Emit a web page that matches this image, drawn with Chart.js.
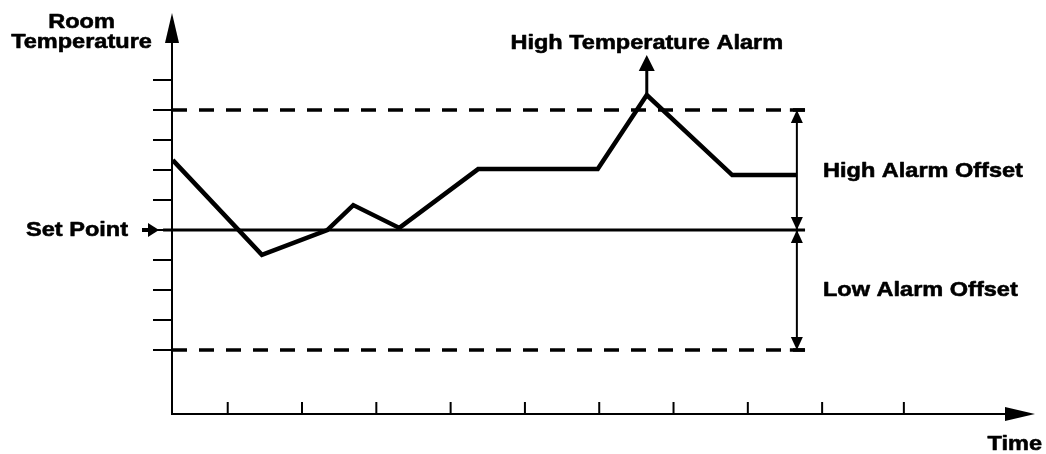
<!DOCTYPE html>
<html><head><meta charset="utf-8">
<script src="https://cdn.jsdelivr.net/npm/chart.js@4.4.0/dist/chart.umd.min.js"></script>
<style>html,body{margin:0;padding:0;background:#fff;overflow:hidden}#wrap{width:1046px;height:454px;position:relative}</style>
</head><body><div id="wrap"><canvas id="c"></canvas></div>
<script>
// ---- data (abstract units: x = time ticks, y = temperature steps from set point) ----
const timeValues        = [0.01, 1.21, 2.09, 2.44, 3.06, 4.12, 5.73, 6.39, 7.54, 8.41];
const temperatureValues = [2.33, -0.83, 0.0, 0.83, 0.07, 2.03, 2.03, 4.5, 1.83, 1.83];
const setPoint = 0;
const highAlarmLevel = 4;
const lowAlarmLevel = -4;
const yTickValues = [-4, -3, -2, -1, 0, 1, 2, 3, 4, 5];
const xTickValues = [0.75, 1.75, 2.75, 3.75, 4.75, 5.75, 6.75, 7.75, 8.75, 9.85];
const lineEnd = 8.52;     // where reference lines end (time units)
const offsetX = 8.41;     // x of offset dimension arrows
const alarmArrowTop = 5.83; // top of the high-temperature alarm arrow

const labels = {
  yTitle: ['Room', 'Temperature'],
  xTitle: 'Time',
  alarm: 'High Temperature Alarm',
  setPoint: 'Set Point',
  high: 'High Alarm Offset',
  low: 'Low Alarm Offset'
};

const FONT = 'bold 21px "Liberation Sans", Arial, Helvetica, sans-serif';
const SX = 1.12;

function head(ctx, tx, ty, dx, dy, len, hw) {
  const bx = tx - dx * len, by = ty - dy * len;
  const px = -dy, py = dx;
  ctx.beginPath();
  ctx.moveTo(tx, ty);
  ctx.lineTo(bx + px * hw, by + py * hw);
  ctx.lineTo(bx - px * hw, by - py * hw);
  ctx.closePath();
  ctx.fill();
}
function line(ctx, x1, y1, x2, y2, w) {
  ctx.lineWidth = w;
  ctx.beginPath(); ctx.moveTo(x1, y1); ctx.lineTo(x2, y2); ctx.stroke();
}
function text(ctx, s, x, y, align) {
  ctx.save();
  ctx.font = FONT;
  ctx.textBaseline = 'alphabetic';
  const w = ctx.measureText(s).width * SX;
  let left = x;
  if (align === 'center') left = x - w / 2;
  else if (align === 'right') left = x - w;
  ctx.translate(left, y);
  ctx.scale(SX, 1);
  ctx.textAlign = 'left';
  ctx.lineWidth = 0.6;
  ctx.lineJoin = 'round';
  ctx.fillText(s, 0, 0);
  ctx.strokeText(s, 0, 0);
  ctx.restore();
}

const decor = {
  id: 'decor',
  afterDatasetsDraw(chart) {
    const ctx = chart.ctx;
    const xs = chart.scales.x, ys = chart.scales.y;
    const X = v => xs.getPixelForValue(v), Y = v => ys.getPixelForValue(v);
    ctx.save();
    ctx.strokeStyle = '#000'; ctx.fillStyle = '#000'; ctx.lineCap = 'butt';
    const x0 = X(xs.min), y0 = Y(ys.min);
    const topY = Y(ys.max), rightX = X(xs.max);
    // axes
    line(ctx, x0, y0 + 1, x0, topY + 28, 2);
    head(ctx, x0, topY, 0, -1, 30, 7);
    line(ctx, x0 - 1, y0, rightX - 28, y0, 2);
    head(ctx, rightX, y0, 1, 0, 30, 7);
    // ticks
    yTickValues.forEach(v => line(ctx, x0 - 19, Y(v), x0, Y(v), 2));
    xTickValues.forEach(v => line(ctx, X(v), y0, X(v), y0 - 12, 2));
    // offset dimension arrows
    const ox = X(offsetX);
    const yh = Y(highAlarmLevel), ysP = Y(setPoint), yl = Y(lowAlarmLevel);
    line(ctx, ox, yh + 10, ox, yl - 10, 2);
    head(ctx, ox, yh, 0, -1, 13, 6);
    head(ctx, ox, ysP, 0, 1, 13, 6);
    head(ctx, ox, ysP, 0, -1, 13, 6);
    head(ctx, ox, yl, 0, 1, 13, 6);
    line(ctx, ox - 7, yh, ox + 8, yh, 3.5);
    line(ctx, ox - 7, yl, ox + 8, yl, 3.5);
    // high temperature alarm arrow
    const pi = temperatureValues.indexOf(Math.max(...temperatureValues));
    const px = X(timeValues[pi]), py = Y(temperatureValues[pi]);
    line(ctx, px, py, px, Y(alarmArrowTop) + 14, 3);
    head(ctx, px, Y(alarmArrowTop), 0, -1, 16, 8);
    // set point arrow
    line(ctx, x0 - 30, ysP, x0 - 22, ysP, 4);
    head(ctx, x0 - 13, ysP, 1, 0, 11, 7);
    // texts
    text(ctx, labels.yTitle[0], 81.5, 28, 'center');
    text(ctx, labels.yTitle[1], 81.5, 48, 'center');
    text(ctx, labels.alarm, px, 49, 'center');
    text(ctx, labels.setPoint, 128, ysP + 6, 'right');
    text(ctx, labels.high, 823, 177, 'left');
    text(ctx, labels.low, 823, 296, 'left');
    text(ctx, labels.xTitle, 1042, 450, 'right');
    ctx.restore();
  }
};

const pts = timeValues.map((t, i) => ({ x: t, y: temperatureValues[i] }));

new Chart(document.getElementById('c'), {
  type: 'line',
  data: {
    datasets: [
      { data: pts, borderColor: '#000', borderWidth: 4.5, pointRadius: 0, tension: 0,
        borderJoinStyle: 'miter', borderCapStyle: 'butt', clip: false },
      { data: [{ x: -0.12, y: setPoint }, { x: lineEnd, y: setPoint }], borderColor: '#000',
        borderWidth: 3, pointRadius: 0, clip: false },
      { data: [{ x: 0, y: highAlarmLevel }, { x: lineEnd, y: highAlarmLevel }], borderColor: '#000',
        borderWidth: 3.5, borderDash: [15, 12], pointRadius: 0, clip: false },
      { data: [{ x: 0, y: lowAlarmLevel }, { x: lineEnd, y: lowAlarmLevel }], borderColor: '#000',
        borderWidth: 3.5, borderDash: [15, 12], pointRadius: 0, clip: false }
    ]
  },
  options: {
    responsive: true, maintainAspectRatio: false, animation: false,
    layout: { padding: { left: 172, right: 11, top: 13, bottom: 40 } },
    plugins: { legend: { display: false }, tooltip: { enabled: false } },
    scales: {
      x: { type: 'linear', min: 0, max: 11.615, display: false },
      y: { type: 'linear', min: -6.133, max: 7.233, display: false }
    }
  },
  plugins: [decor]
});
</script></body></html>
